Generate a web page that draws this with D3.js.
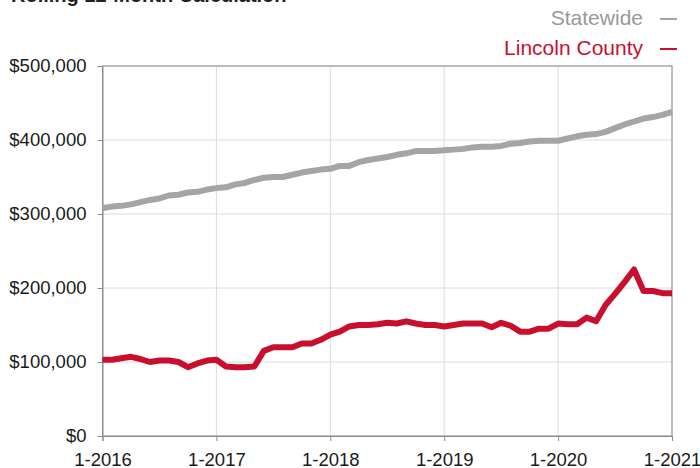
<!DOCTYPE html>
<html lang="en">
<head>
<meta charset="UTF-8">
<title>Rolling 12-Month Calculation</title>
<script src="https://d3js.org/d3.v7.min.js"></script>
<style>
  html, body { margin: 0; padding: 0; background: #fff; }
  svg { display: block; font-family: "Liberation Sans", Arial, Helvetica, sans-serif; }
</style>
</head>
<body>
<script>
// monthly values, 1-2016 .. 1-2021 (61 months), in dollars
const statewide = [
  308000, 310000, 311000, 313000, 316000, 319000, 321000, 325000, 326000, 329000, 330000, 333000,
  335000, 336000, 340000, 342000, 346000, 349000, 350000, 350000, 353000, 356000, 358000, 360000,
  361000, 365000, 365000, 370000, 373000, 375000, 377000, 380000, 382000, 385000, 385000, 385000,
  386000, 387000, 388000, 390000, 391000, 391000, 392000, 395000, 396000, 398000, 399000, 399000,
  399000, 402000, 405000, 407000, 408000, 411000, 416000, 421000, 425000, 429000, 431000, 434000,
  438000
];
const lincoln = [
  103000, 103000, 105000, 107000, 104000, 100000, 102000, 102000, 100000, 93000, 98000, 102000,
  103000, 94000, 93000, 93000, 94000, 115000, 120000, 120000, 120000, 125000, 125000, 130000,
  137000, 141000, 148000, 150000, 150000, 151000, 153000, 152000, 155000, 152000, 150000, 150000,
  148000, 150000, 152000, 152000, 152000, 147000, 153000, 149000, 141000, 141000, 145000, 145000,
  152000, 151000, 151000, 160000, 155000, 177000, 192000, 208000, 225000, 196000, 196000, 193000,
  193000
];
const yearLabels = ['1-2016', '1-2017', '1-2018', '1-2019', '1-2020', '1-2021'];
const yTicks = [0, 100000, 200000, 300000, 400000, 500000];
const seriesNames = ['Statewide', 'Lincoln County'];
const seriesColors = ['#a5a5a5', '#c8102e'];

const W = 700, H = 468;
const m = { left: 102.5, right: 28, top: 66, bottom: 32 };

const svg = d3.select('body').append('svg')
  .attr('width', W)
  .attr('height', H);

const x = d3.scaleLinear()
  .domain([0, statewide.length - 1])
  .range([m.left, W - m.right]);
const y = d3.scaleLinear()
  .domain([0, 500000])
  .range([H - m.bottom, m.top]);

const xTickVals = yearLabels.map((d, i) => i * 12);

// title (cut off at top)
svg.append('text')
  .attr('x', 11)
  .attr('y', 2)
  .attr('font-size', 20)
  .attr('font-weight', 'bold')
  .attr('fill', '#222')
  .text('Rolling 12-Month Calculation');

// grid
svg.append('g')
  .selectAll('line.h')
  .data(yTicks)
  .join('line')
  .attr('x1', m.left).attr('x2', W - m.right)
  .attr('y1', d => y(d)).attr('y2', d => y(d))
  .attr('stroke', '#dcdcdc').attr('stroke-width', 1);
svg.append('g')
  .selectAll('line.v')
  .data(xTickVals)
  .join('line')
  .attr('x1', d => x(d)).attr('x2', d => x(d))
  .attr('y1', m.top).attr('y2', H - m.bottom)
  .attr('stroke', '#dcdcdc').attr('stroke-width', 1);

// frame
svg.append('rect')
  .attr('x', m.left).attr('y', m.top)
  .attr('width', W - m.right - m.left)
  .attr('height', H - m.bottom - m.top)
  .attr('fill', 'none')
  .attr('stroke', '#8c8c8c')
  .attr('stroke-width', 1);

// axes
const fmt = d => '$' + d3.format(',')(d);
const yAxis = svg.append('g')
  .attr('transform', `translate(${m.left},0)`)
  .call(d3.axisLeft(y).tickValues(yTicks).tickFormat(fmt).tickSize(5).tickPadding(11));
const xAxis = svg.append('g')
  .attr('transform', `translate(0,${H - m.bottom})`)
  .call(d3.axisBottom(x).tickValues(xTickVals).tickFormat((d, i) => yearLabels[i]).tickSize(5).tickPadding(12));
[yAxis, xAxis].forEach(a => {
  a.select('.domain').attr('stroke', '#8c8c8c');
  a.selectAll('.tick line').attr('stroke', '#8c8c8c');
  a.selectAll('.tick text')
    .attr('font-size', 18.5)
    .attr('font-family', '"Liberation Sans", Arial, sans-serif')
    .attr('fill', '#1a1a1a');
});

// lines
const line = d3.line()
  .x((d, i) => x(i))
  .y(d => y(d));
[statewide, lincoln].forEach((s, k) => {
  svg.append('path')
    .datum(s)
    .attr('d', line)
    .attr('fill', 'none')
    .attr('stroke', seriesColors[k])
    .attr('stroke-width', 6)
    .attr('stroke-linejoin', 'round');
});

// legend
const legend = svg.append('g');
seriesNames.forEach((name, k) => {
  const by = 25 + k * 30;
  legend.append('text')
    .attr('x', 643)
    .attr('y', by)
    .attr('text-anchor', 'end')
    .attr('font-size', 21)
    .attr('fill', seriesColors[k] === '#a5a5a5' ? '#999' : seriesColors[k])
    .text(name);
  legend.append('line')
    .attr('x1', 660).attr('x2', 677)
    .attr('y1', by - 6).attr('y2', by - 6)
    .attr('stroke', seriesColors[k])
    .attr('stroke-width', 2);
});
</script>
</body>
</html>
